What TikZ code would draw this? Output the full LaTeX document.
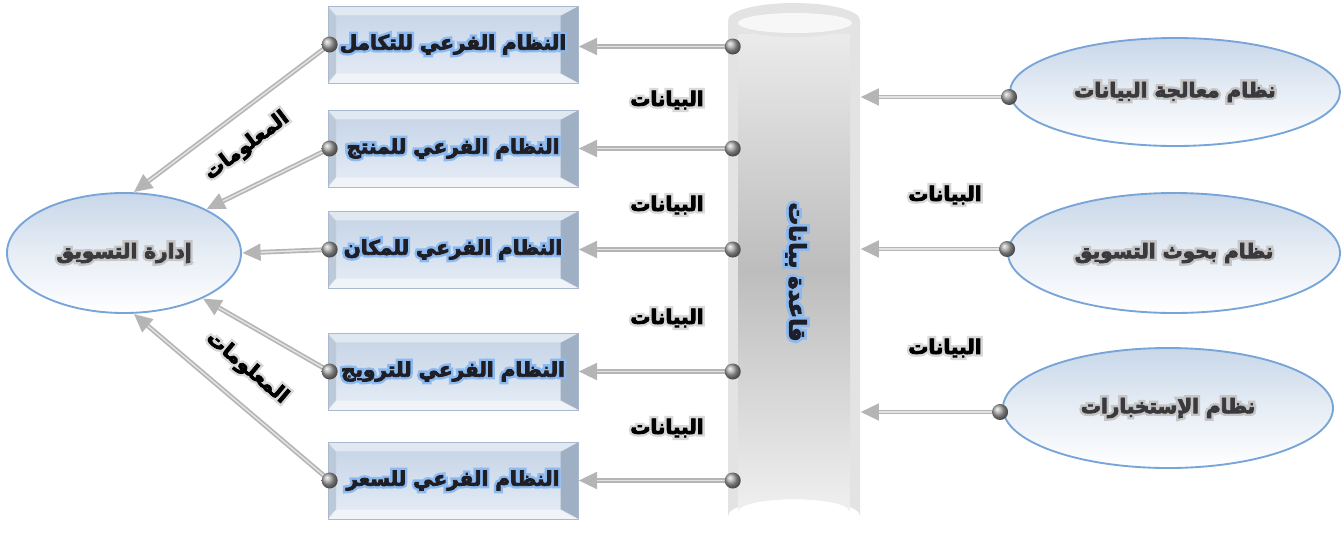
\documentclass[tikz,border=0pt]{standalone}
\usepackage{fontspec}
\usetikzlibrary{shapes.geometric,arrows.meta,calc}
\TeXXeTstate=1
\newfontfamily\arabicfont[Script=Arabic]{DejaVu Sans}
\newfontfamily\armain[Script=Arabic,FakeBold=4]{DejaVu Sans Bold}
\newfontfamily\arglow[Script=Arabic,FakeBold=28]{DejaVu Sans Bold}
\newsavebox\glA
\newsavebox\glB
% #1 glow colour, #2 text colour, #3 text (already wrapped in \beginR ... \endR)
\newcommand\gtxt[3]{\sbox\glA{\color{#1}\arglow #3}\sbox\glB{\color{#2}\armain #3}%
  \makebox[\wd\glB]{\makebox[0pt]{\usebox\glA}}\llap{\usebox\glB}}
\definecolor{faceTop}{RGB}{196,211,230}
\definecolor{faceBot}{RGB}{230,237,246}
\definecolor{bevT}{RGB}{224,232,242}
\definecolor{bevB}{RGB}{240,244,249}
\definecolor{bevL}{RGB}{188,201,217}
\definecolor{bevR}{RGB}{160,176,196}
\definecolor{boxEdge}{RGB}{170,185,205}
\definecolor{ellTop}{RGB}{200,215,233}
\definecolor{ellEdge}{RGB}{120,165,215}
\definecolor{boxTxt}{RGB}{30,30,36}
\definecolor{ellTxt}{RGB}{58,58,62}
\definecolor{dbTxt}{RGB}{30,30,40}
\definecolor{glowBlue}{RGB}{140,186,240}
\begin{document}
\begin{tikzpicture}[x=0.75pt,y=-0.75pt,
  subsys/.style={rectangle, minimum width=187.5pt, minimum height=57.75pt, inner sep=0pt,
    top color=faceTop, bottom color=faceBot, draw=boxEdge, line width=0.5pt,
    font=\arabicfont\bfseries\fontsize{15}{18}\selectfont,
    path picture={
      \coordinate (NW) at (path picture bounding box.north west);
      \coordinate (NE) at (path picture bounding box.north east);
      \coordinate (SW) at (path picture bounding box.south west);
      \coordinate (SE) at (path picture bounding box.south east);
      \coordinate (iNW) at ($(NW)+(6pt,-7pt)$);
      \coordinate (iNE) at ($(NE)+(-13pt,-7pt)$);
      \coordinate (iSW) at ($(SW)+(6pt,7pt)$);
      \coordinate (iSE) at ($(SE)+(-13pt,7pt)$);
      \fill[bevT] (NW) -- (NE) -- (iNE) -- (iNW) -- cycle;
      \fill[bevB] (SW) -- (SE) -- (iSE) -- (iSW) -- cycle;
      \fill[bevL] (NW) -- (iNW) -- (iSW) -- (SW) -- cycle;
      \fill[bevR] (NE) -- (iNE) -- (iSE) -- (SE) -- cycle;
      \draw[white!70!boxEdge, line width=0.4pt] (NW) -- (iNW) (NE) -- (iNE) (SW) -- (iSW) (SE) -- (iSE);
    }},
  oval/.style={ellipse, inner sep=0pt, top color=ellTop, bottom color=white, middle color=white!55!ellTop,
    draw=ellEdge, line width=1.4pt, font=\arabicfont\bfseries\fontsize{15}{18}\selectfont},
  ball/.style={circle, minimum size=12pt, inner sep=0pt, shading=ball, ball color=gray!70},
  conn/.style={draw=gray!58, line width=3.6pt, -{Triangle[length=14pt,width=12pt,fill=gray!62]},
    postaction={draw=white!78!gray, line width=1.1pt, -, shorten >=14pt}},
  datalbl/.style={font=\arabicfont\bfseries\fontsize{15}{18}\selectfont, inner sep=0pt},
  infolbl/.style={font=\arabicfont\bfseries\fontsize{15}{18}\selectfont, inner sep=0pt}
]
\useasboundingbox (0,0) rectangle (1344,540);

% ---------- database cylinder ----------
\node[minimum width=99pt, minimum height=397.5pt, inner sep=0pt] (db) at (794,268) {};
\fill[gray!22] (728,20) -- (728,516) arc[start angle=180,end angle=360,x radius=66,y radius=17]
  -- (860,20) arc[start angle=0,end angle=180,x radius=66,y radius=17] -- cycle;
\shade[top color=gray!16, bottom color=gray!52] (738,34) rectangle (850,270);
\shade[top color=gray!52, bottom color=gray!12] (738,270) -- (738,512)
  arc[start angle=180,end angle=360,x radius=56,y radius=13] -- (850,270) -- cycle;
\fill[gray!22] (794,20) ellipse[x radius=66, y radius=17];
\fill[gray!6] (795,23) ellipse[x radius=57, y radius=10];
\node[font=\arabicfont\bfseries\fontsize{17}{20}\selectfont, rotate=-90, inner sep=0pt] (dbl) at (796,272)
  {\gtxt{glowBlue}{dbTxt}{\beginR قاعدة بيانات\endR}};

% ---------- left ellipse ----------
\node[oval, minimum width=175.5pt, minimum height=90pt] (mkt) at (124,253)
  {\gtxt{gray!45}{ellTxt}{\beginR إدارة التسويق\endR}};

% ---------- subsystem boxes ----------
\node[subsys] (b1) at (453,44.5) {\gtxt{glowBlue}{boxTxt}{\beginR النظام الفرعي للتكامل\endR}};
\node[subsys] (b2) at (453,148.5) {\gtxt{glowBlue}{boxTxt}{\beginR النظام الفرعي للمنتج\endR}};
\node[subsys] (b3) at (453,249.5) {\gtxt{glowBlue}{boxTxt}{\beginR النظام الفرعي للمكان\endR}};
\node[subsys] (b4) at (453,371.5) {\gtxt{glowBlue}{boxTxt}{\beginR النظام الفرعي للترويج\endR}};
\node[subsys] (b5) at (453,480.5) {\gtxt{glowBlue}{boxTxt}{\beginR النظام الفرعي للسعر\endR}};

% ---------- right ellipses ----------
\node[oval, minimum width=247.5pt, minimum height=81pt] (r1) at (1175,92)
  {\gtxt{gray!45}{ellTxt}{\beginR نظام معالجة البيانات\endR}};
\node[oval, minimum width=249pt, minimum height=90pt] (r2) at (1174,253)
  {\gtxt{gray!45}{ellTxt}{\beginR نظام بحوث التسويق\endR}};
\node[oval, minimum width=247.5pt, minimum height=90pt] (r3) at (1168,408)
  {\gtxt{gray!45}{ellTxt}{\beginR نظام الإستخبارات\endR}};

% ---------- connector end points ----------
\coordinate (pb1) at ($(b1.west)+(2,0)$);
\coordinate (pb2) at ($(b2.west)+(2,0)$);
\coordinate (pb3) at ($(b3.west)+(2,0)$);
\coordinate (pb4) at ($(b4.west)+(2,0)$);
\coordinate (pb5) at ($(b5.west)+(2,0)$);
\coordinate (pc1) at ($(db.west |- b1.west)+(5,2)$);
\coordinate (pc2) at ($(db.west |- b2.west)+(5,0)$);
\coordinate (pc3) at ($(db.west |- b3.west)+(5,0)$);
\coordinate (pc4) at ($(db.west |- b4.west)+(5,0)$);
\coordinate (pc5) at ($(db.west |- b5.west)+(5,0)$);
\coordinate (pr1) at ($(r1.west)+(0,5)$);
\coordinate (pr2) at ($(r2.west)+(0,-4)$);
\coordinate (pr3) at ($(r3.west)+(-2,4)$);

% ---------- connectors ----------
\draw[conn] (pb1) -- (mkt.81);
\draw[conn] (pb2) -- (mkt.28);
\draw[conn] (pb3) -- (mkt.east);
\draw[conn] (pb4) -- (mkt.-30);
\draw[conn] (pb5) -- (mkt.-81);
\draw[conn] (pc1) -- (pc1 -| b1.east);
\draw[conn] (pc2) -- (pc2 -| b2.east);
\draw[conn] (pc3) -- (pc3 -| b3.east);
\draw[conn] (pc4) -- (pc4 -| b4.east);
\draw[conn] (pc5) -- (pc5 -| b5.east);
\draw[conn] (pr1) -- (pr1 -| db.east);
\draw[conn] (pr2) -- (pr2 -| db.east);
\draw[conn] (pr3) -- (pr3 -| db.east);

% ---------- balls ----------
\foreach \p in {pb1,pb2,pb3,pb4,pb5,pc1,pc2,pc3,pc4,pc5,pr1,pr2,pr3}
  \node[ball] (k-\p) at (\p) {};

% ---------- labels ----------
\node[datalbl] (d1) at (667,100) {\gtxt{gray!30}{black}{\beginR البيانات\endR}};
\node[datalbl] (d2) at (667,205) {\gtxt{gray!30}{black}{\beginR البيانات\endR}};
\node[datalbl] (d3) at (667,318) {\gtxt{gray!30}{black}{\beginR البيانات\endR}};
\node[datalbl] (d4) at (667,428) {\gtxt{gray!30}{black}{\beginR البيانات\endR}};
\node[datalbl] (d5) at (945,195) {\gtxt{gray!30}{black}{\beginR البيانات\endR}};
\node[datalbl] (d6) at (945,348) {\gtxt{gray!30}{black}{\beginR البيانات\endR}};
\node[infolbl, rotate=37] (i1) at (247,146) {\gtxt{gray!30}{black}{\beginR المعلومات\endR}};
\node[infolbl, rotate=-40] (i2) at (247,368) {\gtxt{gray!30}{black}{\beginR المعلومات\endR}};
\end{tikzpicture}
\end{document}
